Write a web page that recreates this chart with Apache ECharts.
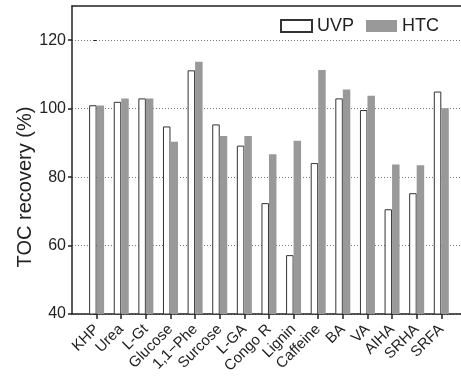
<!DOCTYPE html>
<html>
<head>
<meta charset="utf-8">
<script src="https://cdn.jsdelivr.net/npm/echarts@6/dist/echarts.min.js"></script>
<style>
html,body{margin:0;padding:0;background:#fff;}
#chart{width:461px;height:379px;}
</style>
</head>
<body>
<div id="chart"></div>
<script>
var categories = ['KHP','Urea','L-Gt','Glucose','1,1\u2212Phe','Surcose','L-GA','Congo R','Lignin','Caffeine','BA','VA','AIHA','SRHA','SRFA'];
var uvpValues = [101.0, 102.0, 103.0, 94.8, 111.2, 95.4, 89.2, 72.4, 57.2, 84.1, 103.0, 99.6, 70.6, 75.3, 105.0];
var htcValues = [100.9, 103.0, 103.0, 90.3, 113.7, 92.0, 92.0, 86.7, 90.6, 111.3, 105.6, 103.8, 83.7, 83.5, 100.1];
var yTicks = [40, 60, 80, 100, 120];

var FONT = 'Liberation Sans, Arial, Helvetica, sans-serif';
var INK = '#222';
var catIdx = categories.map(function (_, i) { return i; });

var chart = echarts.init(document.getElementById('chart'), null, {renderer: 'canvas'});
chart.setOption({
  animation: false,
  backgroundColor: '#fff',
  textStyle: {fontFamily: FONT, color: INK},
  grid: {left: 72, right: 0, top: 6, bottom: 65},
  legend: {
    left: 275, top: 12,
    itemWidth: 31, itemHeight: 12, itemGap: 12,
    icon: 'rect',
    textStyle: {fontFamily: FONT, fontSize: 18, color: INK},
    data: ['UVP', 'HTC']
  },
  xAxis: [{
    type: 'value', min: -1, max: 14.8, interval: 1,
    axisLine: {show: true, onZero: false, lineStyle: {color: INK, width: 1.5}},
    axisTick: {show: true, length: 5, customValues: catIdx, lineStyle: {color: INK, width: 1.5}},
    axisLabel: {
      customValues: catIdx,
      rotate: 45, margin: 13, fontSize: 15, color: INK, fontFamily: FONT,
      formatter: function (v) { return categories[Math.round(v)] || ''; }
    },
    splitLine: {show: false}
  }, {
    type: 'value', min: -1, max: 14.8, position: 'top',
    axisLine: {show: true, onZero: false, lineStyle: {color: INK, width: 1.5}},
    axisTick: {show: false}, axisLabel: {show: false}, splitLine: {show: false}
  }],
  yAxis: [{
    type: 'value', min: 40, max: 130, interval: 20,
    name: 'TOC recovery (%)', nameLocation: 'middle', nameGap: 37, nameMoveOverlap: false,
    nameTextStyle: {fontSize: 20, color: INK, fontFamily: FONT, padding: [0, 54, 0, 0]},
    axisLine: {show: true, onZero: false, lineStyle: {color: INK, width: 1.5}},
    axisTick: {show: true, length: 4, customValues: yTicks, lineStyle: {color: INK, width: 1.5}},
    axisLabel: {customValues: yTicks, margin: 6, fontSize: 16, color: INK, fontFamily: FONT},
    splitLine: {show: true, lineStyle: {color: '#777', width: 1, type: [1, 2]}}
  }, {
    type: 'value', min: 40, max: 130, position: 'right',
    axisLine: {show: false},
    axisTick: {show: true, inside: true, length: 3, customValues: yTicks, lineStyle: {color: INK}},
    axisLabel: {show: false}, splitLine: {show: false}
  }],
  series: [{
    name: 'UVP', type: 'bar', xAxisIndex: 0, yAxisIndex: 0,
    barWidth: 7.5, barGap: '0%',
    itemStyle: {color: '#fff', borderColor: '#333', borderWidth: 1},
    data: uvpValues.map(function (v, i) { return [i, v]; })
  }, {
    name: 'HTC', type: 'bar', xAxisIndex: 0, yAxisIndex: 0,
    barWidth: 7.5, barGap: '0%',
    itemStyle: {color: '#999999'},
    data: htcValues.map(function (v, i) { return [i, v]; })
  }]
});
</script>
</body>
</html>
